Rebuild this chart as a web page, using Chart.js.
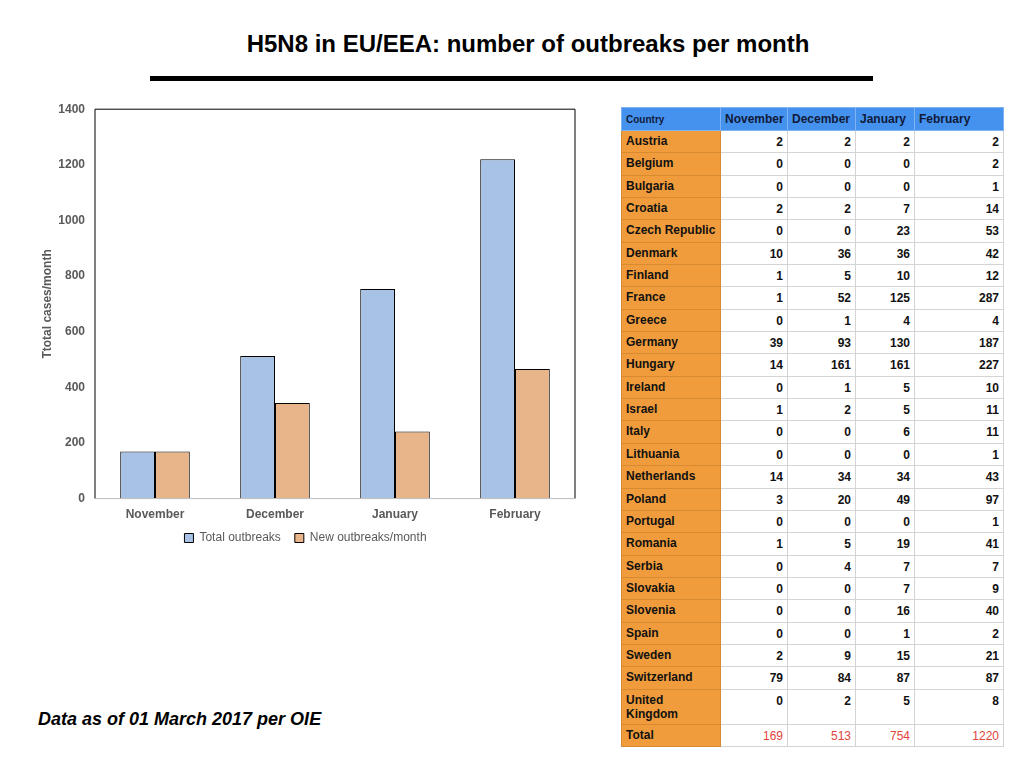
<!DOCTYPE html>
<html>
<head>
<meta charset="utf-8">
<script src="https://cdn.jsdelivr.net/npm/chart.js@4"></script>
<style>
  body { margin: 0; width: 1024px; height: 768px; background: #fff; font-family: "Liberation Sans", Arial, sans-serif; position: relative; overflow: hidden; }
  #title { position: absolute; left: 16px; width: 1024px; top: 30px; text-align: center; font-size: 24px; font-weight: bold; color: #000; }
  #rule { position: absolute; left: 150px; width: 723px; top: 76px; height: 5px; background: #000; }
  #chartBox { position: absolute; left: 36px; top: 92px; width: 560px; height: 475px; }
  #note { position: absolute; left: 38px; top: 709px; font-size: 18px; font-weight: bold; font-style: italic; color: #000; }
  table { position: absolute; left: 621px; top: 107px; border-collapse: collapse; table-layout: fixed; width: 382px; font-size: 12px; font-weight: bold; }
  td, th { border: 1px solid #d4d4d4; padding: 0 4px; height: 21.35px; white-space: nowrap; overflow: hidden; }
  th { background: #4592ee; color: #101a3a; text-align: left; font-size: 12px; border-color: #7fb2f2; height: 22px; }
  th.c { font-size: 10px; }
  td.name { background: #f09c3c; color: #111; text-align: left; vertical-align: top; padding-top: 3px; height: 18.35px; border-color: #d88a30; }
  td.num { text-align: right; vertical-align: top; padding-top: 4px; height: 17.35px; color: #111; }
  tr.total td.num { color: #e0443a; font-weight: normal; }
</style>
</head>
<body>
<div id="title">H5N8 in EU/EEA: number of outbreaks per month</div>
<div id="rule"></div>
<div id="chartBox"><canvas id="myChart"></canvas></div>
<div id="note">Data as of 01 March 2017 per OIE</div>
<table id="tbl"></table>
<script>
const months = ['November', 'December', 'January', 'February'];
const totalOutbreaks = [169, 513, 754, 1220];
const newOutbreaks = [169, 344, 241, 466];
const yTicks = [0, 200, 400, 600, 800, 1000, 1200, 1400];

const countries = ['Austria', 'Belgium', 'Bulgaria', 'Croatia', 'Czech Republic', 'Denmark', 'Finland', 'France',
    'Greece', 'Germany', 'Hungary', 'Ireland', 'Israel', 'Italy', 'Lithuania', 'Netherlands', 'Poland', 'Portugal',
    'Romania', 'Serbia', 'Slovakia', 'Slovenia', 'Spain', 'Sweden', 'Switzerland', 'United<br>Kingdom'];
const novCounts = [2, 0, 0, 2, 0, 10, 1, 1, 0, 39, 14, 0, 1, 0, 0, 14, 3, 0, 1, 0, 0, 0, 0, 2, 79, 0];
const decCounts = [2, 0, 0, 2, 0, 36, 5, 52, 1, 93, 161, 1, 2, 0, 0, 34, 20, 0, 5, 4, 0, 0, 0, 9, 84, 2];
const janCounts = [2, 0, 0, 7, 23, 36, 10, 125, 4, 130, 161, 5, 5, 6, 0, 34, 49, 0, 19, 7, 7, 16, 1, 15, 87, 5];
const febCounts = [2, 2, 1, 14, 53, 42, 12, 287, 4, 187, 227, 10, 11, 11, 1, 43, 97, 1, 41, 7, 9, 40, 2, 21, 87, 8];
const tableTotals = [169, 513, 754, 1220];

// table
let html = `<tr><th class="c" style="width:90px">Country</th><th style="width:58px">November</th><th style="width:59px">December</th><th style="width:50px">January</th><th style="width:80px">February</th></tr>`;
countries.forEach((c, i) => {
    const tall = c.indexOf('<br>') >= 0 ? ' style="height:31px;white-space:normal"' : '';
    html += `<tr><td class="name"${tall}>${c}</td><td class="num">${novCounts[i]}</td><td class="num">${decCounts[i]}</td><td class="num">${janCounts[i]}</td><td class="num">${febCounts[i]}</td></tr>`;
});
html += `<tr class="total"><td class="name">Total</td>` + tableTotals.map(v => `<td class="num">${v}</td>`).join('') + `</tr>`;
document.getElementById('tbl').innerHTML = html;

// frame around plot area
const frame = {
    id: 'frame',
    afterLayout(chart) {
        // pull the legend a bit closer to the axis labels
        if (chart.legend) {
            chart.legend.top -= 13;
            chart.legend.bottom -= 13;
        }
    },
    afterDatasetsDraw(chart) {
        const a = chart.chartArea, ctx = chart.ctx;
        ctx.save();
        ctx.strokeStyle = '#000';
        ctx.lineWidth = 1;
        ctx.beginPath();
        ctx.moveTo(a.left, a.bottom);
        ctx.lineTo(a.left, a.top);
        ctx.lineTo(a.right, a.top);
        ctx.lineTo(a.right, a.bottom);
        ctx.stroke();
        ctx.strokeStyle = '#bbb';
        ctx.beginPath();
        ctx.moveTo(a.left, a.bottom);
        ctx.lineTo(a.right, a.bottom);
        ctx.stroke();
        ctx.restore();
    }
};

Chart.defaults.font.family = '"Liberation Sans", Arial, sans-serif';
Chart.defaults.color = '#595959';

new Chart(document.getElementById('myChart').getContext('2d'), {
    type: 'bar',
    data: {
        labels: months,
        datasets: [{
            label: 'Total outbreaks',
            data: totalOutbreaks,
            backgroundColor: '#a7c2e4',
            borderColor: '#000',
            borderWidth: 1
        }, {
            label: 'New outbreaks/month',
            data: newOutbreaks,
            backgroundColor: '#e8b48a',
            borderColor: '#000',
            borderWidth: 1
        }]
    },
    options: {
        responsive: true,
        maintainAspectRatio: false,
        animation: false,
        layout: {padding: {top: 4, right: 21}},
        datasets: {bar: {categoryPercentage: 0.58, barPercentage: 1}},
        scales: {
            x: {
                grid: {display: false, drawTicks: false},
                border: {display: false},
                ticks: {font: {size: 12, weight: 'bold'}, padding: 9}
            },
            y: {
                min: yTicks[0],
                max: yTicks[yTicks.length - 1],
                grid: {display: false, drawTicks: false},
                border: {display: false},
                afterBuildTicks: axis => { axis.ticks = yTicks.map(v => ({value: v})); },
                afterFit: axis => { axis.width = 59; },
                ticks: {font: {size: 12, weight: 'bold'}, padding: 10, callback: v => String(v)},
                title: {display: true, text: 'Ttotal cases/month', font: {size: 12, weight: 'bold'}, padding: {top: 4, bottom: 2}}
            }
        },
        plugins: {
            legend: {
                position: 'bottom',
                onClick: null,
                labels: {boxWidth: 9, boxHeight: 9, font: {size: 12}, padding: 14}
            },
            tooltip: {enabled: false}
        }
    },
    plugins: [frame]
});
</script>
</body>
</html>
